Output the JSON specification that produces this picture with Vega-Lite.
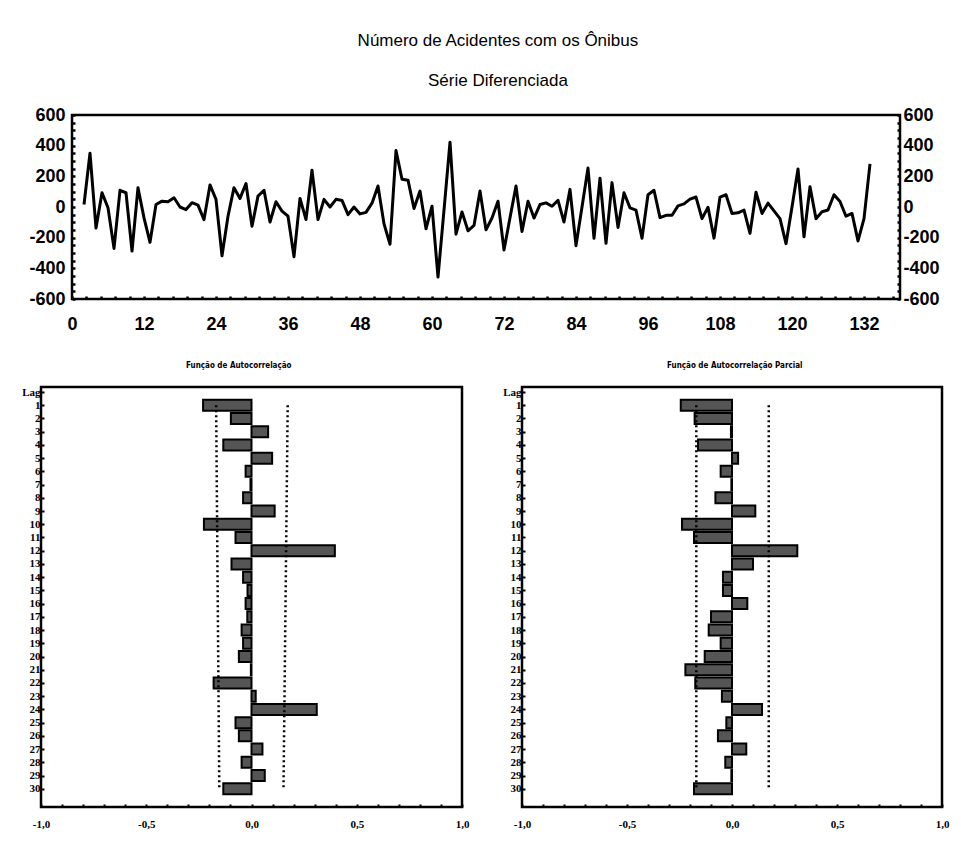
{
  "$schema": "https://vega.github.io/schema/vega-lite/v6.json",
  "background": "white",
  "padding": {"left": 5, "top": 31, "right": 5, "bottom": 5},
  "title": {
    "text": ["Número de Acidentes com os Ônibus", "Série Diferenciada"],
    "font": "Liberation Sans",
    "fontSize": 17,
    "fontWeight": "normal",
    "lineHeight": 40,
    "anchor": "middle",
    "dx": 20,
    "offset": 15,
    "color": "black"
  },
  "datasets": {
    "series": [
      {"t": 2, "value": 16}, {"t": 3, "value": 351}, {"t": 4, "value": -137}, {"t": 5, "value": 93},
      {"t": 6, "value": -5}, {"t": 7, "value": -270}, {"t": 8, "value": 109}, {"t": 9, "value": 93},
      {"t": 10, "value": -287}, {"t": 11, "value": 126}, {"t": 12, "value": -71}, {"t": 13, "value": -230},
      {"t": 14, "value": 16}, {"t": 15, "value": 38}, {"t": 16, "value": 34}, {"t": 17, "value": 60},
      {"t": 18, "value": 0}, {"t": 19, "value": -17}, {"t": 20, "value": 28}, {"t": 21, "value": 12},
      {"t": 22, "value": -82}, {"t": 23, "value": 144}, {"t": 24, "value": 50}, {"t": 25, "value": -318},
      {"t": 26, "value": -60}, {"t": 27, "value": 126}, {"t": 28, "value": 56}, {"t": 29, "value": 153},
      {"t": 30, "value": -126}, {"t": 31, "value": 71}, {"t": 32, "value": 109}, {"t": 33, "value": -98},
      {"t": 34, "value": 34}, {"t": 35, "value": -27}, {"t": 36, "value": -60}, {"t": 37, "value": -324},
      {"t": 38, "value": 56}, {"t": 39, "value": -82}, {"t": 40, "value": 240}, {"t": 41, "value": -82},
      {"t": 42, "value": 50}, {"t": 43, "value": 0}, {"t": 44, "value": 50}, {"t": 45, "value": 43},
      {"t": 46, "value": -50}, {"t": 47, "value": 0}, {"t": 48, "value": -45}, {"t": 49, "value": -35},
      {"t": 50, "value": 25}, {"t": 51, "value": 137}, {"t": 52, "value": -110}, {"t": 53, "value": -243},
      {"t": 54, "value": 368}, {"t": 55, "value": 181}, {"t": 56, "value": 175}, {"t": 57, "value": -10},
      {"t": 58, "value": 104}, {"t": 59, "value": -142}, {"t": 60, "value": 5}, {"t": 61, "value": -457},
      {"t": 62, "value": -20}, {"t": 63, "value": 423}, {"t": 64, "value": -177}, {"t": 65, "value": -32},
      {"t": 66, "value": -155}, {"t": 67, "value": -120}, {"t": 68, "value": 104}, {"t": 69, "value": -149},
      {"t": 70, "value": -72}, {"t": 71, "value": 38}, {"t": 72, "value": -281}, {"t": 73, "value": -70},
      {"t": 74, "value": 137}, {"t": 75, "value": -160}, {"t": 76, "value": 38}, {"t": 77, "value": -72},
      {"t": 78, "value": 16}, {"t": 79, "value": 27}, {"t": 80, "value": 5}, {"t": 81, "value": 43},
      {"t": 82, "value": -98}, {"t": 83, "value": 115}, {"t": 84, "value": -252}, {"t": 85, "value": 0},
      {"t": 86, "value": 254}, {"t": 87, "value": -204}, {"t": 88, "value": 188}, {"t": 89, "value": -237},
      {"t": 90, "value": 159}, {"t": 91, "value": -133}, {"t": 92, "value": 93}, {"t": 93, "value": -6},
      {"t": 94, "value": -20}, {"t": 95, "value": -204}, {"t": 96, "value": 80}, {"t": 97, "value": 109},
      {"t": 98, "value": -69}, {"t": 99, "value": -54}, {"t": 100, "value": -54}, {"t": 101, "value": 7},
      {"t": 102, "value": 20}, {"t": 103, "value": 51}, {"t": 104, "value": 65}, {"t": 105, "value": -76},
      {"t": 106, "value": -2}, {"t": 107, "value": -203}, {"t": 108, "value": 65}, {"t": 109, "value": 80},
      {"t": 110, "value": -42}, {"t": 111, "value": -38}, {"t": 112, "value": -20}, {"t": 113, "value": -172},
      {"t": 114, "value": 96}, {"t": 115, "value": -42}, {"t": 116, "value": 25}, {"t": 117, "value": -25},
      {"t": 118, "value": -76}, {"t": 119, "value": -239}, {"t": 120, "value": 0}, {"t": 121, "value": 248},
      {"t": 122, "value": -194}, {"t": 123, "value": 132}, {"t": 124, "value": -76}, {"t": 125, "value": -31},
      {"t": 126, "value": -20}, {"t": 127, "value": 80}, {"t": 128, "value": 36}, {"t": 129, "value": -60},
      {"t": 130, "value": -42}, {"t": 131, "value": -221}, {"t": 132, "value": -76}, {"t": 133, "value": 281}
    ],
    "acf": [
      {"lag": 1, "r": -0.23}, {"lag": 2, "r": -0.098}, {"lag": 3, "r": 0.079}, {"lag": 4, "r": -0.134},
      {"lag": 5, "r": 0.098}, {"lag": 6, "r": -0.028}, {"lag": 7, "r": -0.005}, {"lag": 8, "r": -0.04},
      {"lag": 9, "r": 0.11}, {"lag": 10, "r": -0.226}, {"lag": 11, "r": -0.076}, {"lag": 12, "r": 0.396},
      {"lag": 13, "r": -0.095}, {"lag": 14, "r": -0.04}, {"lag": 15, "r": -0.019}, {"lag": 16, "r": -0.028},
      {"lag": 17, "r": -0.02}, {"lag": 18, "r": -0.047}, {"lag": 19, "r": -0.04}, {"lag": 20, "r": -0.06},
      {"lag": 21, "r": -0.003}, {"lag": 22, "r": -0.18}, {"lag": 23, "r": 0.02}, {"lag": 24, "r": 0.31},
      {"lag": 25, "r": -0.076}, {"lag": 26, "r": -0.06}, {"lag": 27, "r": 0.052}, {"lag": 28, "r": -0.047},
      {"lag": 29, "r": 0.063}, {"lag": 30, "r": -0.134}
    ],
    "acfBands": [
      {"side": "lo", "lag": 1, "r": -0.168}, {"side": "lo", "lag": 30, "r": -0.153},
      {"side": "hi", "lag": 1, "r": 0.172}, {"side": "hi", "lag": 30, "r": 0.152}
    ],
    "pacf": [
      {"lag": 1, "r": -0.244}, {"lag": 2, "r": -0.178}, {"lag": 3, "r": -0.005}, {"lag": 4, "r": -0.162},
      {"lag": 5, "r": 0.029}, {"lag": 6, "r": -0.054}, {"lag": 7, "r": -0.003}, {"lag": 8, "r": -0.079},
      {"lag": 9, "r": 0.111}, {"lag": 10, "r": -0.238}, {"lag": 11, "r": -0.181}, {"lag": 12, "r": 0.311},
      {"lag": 13, "r": 0.1}, {"lag": 14, "r": -0.043}, {"lag": 15, "r": -0.043}, {"lag": 16, "r": 0.073},
      {"lag": 17, "r": -0.1}, {"lag": 18, "r": -0.111}, {"lag": 19, "r": -0.054}, {"lag": 20, "r": -0.13},
      {"lag": 21, "r": -0.222}, {"lag": 22, "r": -0.175}, {"lag": 23, "r": -0.048}, {"lag": 24, "r": 0.143},
      {"lag": 25, "r": -0.027}, {"lag": 26, "r": -0.067}, {"lag": 27, "r": 0.068}, {"lag": 28, "r": -0.032},
      {"lag": 29, "r": -0.003}, {"lag": 30, "r": -0.181}
    ],
    "pacfBands": [
      {"side": "lo", "lag": 1, "r": -0.17}, {"side": "lo", "lag": 30, "r": -0.17},
      {"side": "hi", "lag": 1, "r": 0.175}, {"side": "hi", "lag": 30, "r": 0.175}
    ],
    "spacer": [{"s": 0}]
  },
  "columns": 1,
  "align": "none",
  "spacing": 25,
  "concat": [
    {
      "bounds": "flush",
      "spacing": 30,
      "hconcat": [
        {
          "width": 1,
          "height": 184,
          "view": {"stroke": null},
          "data": {"name": "spacer"},
          "mark": {"type": "point", "opacity": 0}
        },
        {
          "width": 828,
          "height": 184,
          "data": {"name": "series"},
          "encoding": {
            "x": {
              "field": "t", "type": "quantitative",
              "scale": {"domain": [0, 138], "nice": false, "zero": false},
              "axis": {
                "title": null, "orient": "bottom",
                "values": [0,2.4,4.8,7.2,9.6,12,14.4,16.8,19.2,21.6,24,26.4,28.8,31.2,33.6,36,38.4,40.8,43.2,45.6,48,50.4,52.8,55.2,57.6,60,62.4,64.8,67.2,69.6,72,74.4,76.8,79.2,81.6,84,86.4,88.8,91.2,93.6,96,98.4,100.8,103.2,105.6,108,110.4,112.8,115.2,117.6,120,122.4,124.8,127.2,129.6,132,134.4,136.8],
                "labelExpr": "datum.value % 12 == 0 ? datum.label : ''",
                "labelFont": "Liberation Sans", "labelFontSize": 18, "labelFontWeight": "bold",
                "labelPadding": 19, "tickSize": -3, "tickWidth": 2.5, "labelFlush": false, "labelOverlap": false
              }
            }
          },
          "layer": [
            {
              "mark": {"type": "line", "color": "black", "strokeWidth": 3, "strokeJoin": "round"},
              "encoding": {
                "y": {
                  "field": "value", "type": "quantitative",
                  "scale": {"domain": [-600, 600], "nice": false},
                  "axis": {
                    "title": null, "orient": "left",
                    "values": [-600,-550,-500,-450,-400,-350,-300,-250,-200,-150,-100,-50,0,50,100,150,200,250,300,350,400,450,500,550,600],
                    "labelExpr": "datum.value % 200 == 0 ? replace(datum.label, '\u2212', '-') : ''",
                    "labelFont": "Liberation Sans", "labelFontSize": 18, "labelFontWeight": "bold",
                    "labelPadding": 10, "tickSize": -3, "tickWidth": 2.5, "labelOverlap": false
                  }
                }
              }
            },
            {
              "mark": {"type": "line", "opacity": 0},
              "encoding": {
                "y": {
                  "field": "value", "type": "quantitative",
                  "axis": {
                    "title": null, "orient": "right",
                    "values": [-600,-550,-500,-450,-400,-350,-300,-250,-200,-150,-100,-50,0,50,100,150,200,250,300,350,400,450,500,550,600],
                    "labelExpr": "datum.value % 200 == 0 ? replace(datum.label, '\u2212', '-') : ''",
                    "labelFont": "Liberation Sans", "labelFontSize": 18, "labelFontWeight": "bold",
                    "labelPadding": 6, "tickSize": -3, "tickWidth": 2.5, "labelOverlap": false
                  }
                }
              }
            }
          ],
          "resolve": {"axis": {"y": "independent"}}
        }
      ]
    },
    {
      "spacing": 15,
      "hconcat": [
        {
          "width": 421,
          "height": 420,
          "title": {"text": "Função de Autocorrelação", "font": "DejaVu Sans Condensed, Liberation Sans", "fontSize": 8, "fontWeight": "bold", "anchor": "start", "dx": 179, "offset": 16, "color": "black"},
          "encoding": {
            "y": {
              "field": "lag", "type": "quantitative",
              "scale": {"domain": [0, 31], "reverse": true, "nice": false, "zero": false},
              "axis": {
                "title": null,
                "values": [0,1,2,3,4,5,6,7,8,9,10,11,12,13,14,15,16,17,18,19,20,21,22,23,24,25,26,27,28,29,30],
                "labelExpr": "datum.value == 0 ? 'Lag' : datum.label",
                "labelFont": "Liberation Serif", "labelFontSize": 11, "labelFontWeight": "bold",
                "labelPadding": 4, "tickSize": -3, "tickWidth": 2, "labelOverlap": false,
                "minExtent": 34, "maxExtent": 34
              }
            },
            "x": {
              "field": "r", "type": "quantitative",
              "scale": {"domain": [-1, 1], "nice": false},
              "axis": {
                "title": null,
                "values": [-1,-0.9,-0.8,-0.7,-0.6,-0.5,-0.4,-0.3,-0.2,-0.1,0,0.1,0.2,0.3,0.4,0.5,0.6,0.7,0.8,0.9,1],
                "labelExpr": "abs(datum.value*2 - round(datum.value*2)) < 0.001 ? replace(replace(format(datum.value, '.1f'), '.', ','), '\u2212', '-') : ''",
                "labelFont": "Liberation Serif", "labelFontSize": 11, "labelFontWeight": "bold",
                "labelPadding": 14, "tickSize": -3, "tickWidth": 2, "labelFlush": false, "labelOverlap": false
              }
            }
          },
          "layer": [
            {
              "data": {"name": "acf"},
              "mark": {"type": "bar", "orient": "horizontal", "size": 11, "fill": "#555555", "stroke": "black", "strokeWidth": 2}
            },
            {
              "data": {"name": "acfBands"},
              "mark": {"type": "line", "color": "black", "strokeDash": [2, 3], "strokeWidth": 2.5},
              "encoding": {
                "detail": {"field": "side", "type": "nominal"},
                "order": {"field": "lag", "type": "quantitative"}
              }
            }
          ]
        },
        {
          "width": 420,
          "height": 420,
          "title": {"text": "Função de Autocorrelação Parcial", "font": "DejaVu Sans Condensed, Liberation Sans", "fontSize": 8, "fontWeight": "bold", "anchor": "start", "dx": 179, "offset": 16, "color": "black"},
          "encoding": {
            "y": {
              "field": "lag", "type": "quantitative",
              "scale": {"domain": [0, 31], "reverse": true, "nice": false, "zero": false},
              "axis": {
                "title": null,
                "values": [0,1,2,3,4,5,6,7,8,9,10,11,12,13,14,15,16,17,18,19,20,21,22,23,24,25,26,27,28,29,30],
                "labelExpr": "datum.value == 0 ? 'Lag' : datum.label",
                "labelFont": "Liberation Serif", "labelFontSize": 11, "labelFontWeight": "bold",
                "labelPadding": 4, "tickSize": -3, "tickWidth": 2, "labelOverlap": false,
                "minExtent": 34, "maxExtent": 34
              }
            },
            "x": {
              "field": "r", "type": "quantitative",
              "scale": {"domain": [-1, 1], "nice": false},
              "axis": {
                "title": null,
                "values": [-1,-0.9,-0.8,-0.7,-0.6,-0.5,-0.4,-0.3,-0.2,-0.1,0,0.1,0.2,0.3,0.4,0.5,0.6,0.7,0.8,0.9,1],
                "labelExpr": "abs(datum.value*2 - round(datum.value*2)) < 0.001 ? replace(replace(format(datum.value, '.1f'), '.', ','), '\u2212', '-') : ''",
                "labelFont": "Liberation Serif", "labelFontSize": 11, "labelFontWeight": "bold",
                "labelPadding": 14, "tickSize": -3, "tickWidth": 2, "labelFlush": false, "labelOverlap": false
              }
            }
          },
          "layer": [
            {
              "data": {"name": "pacf"},
              "mark": {"type": "bar", "orient": "horizontal", "size": 11, "fill": "#555555", "stroke": "black", "strokeWidth": 2}
            },
            {
              "data": {"name": "pacfBands"},
              "mark": {"type": "line", "color": "black", "strokeDash": [2, 3], "strokeWidth": 2.5},
              "encoding": {
                "detail": {"field": "side", "type": "nominal"},
                "order": {"field": "lag", "type": "quantitative"}
              }
            }
          ]
        }
      ]
    }
  ],
  "config": {
    "view": {"stroke": "black", "strokeWidth": 2.5},
    "axis": {"domain": false, "grid": false, "labelOverlap": false, "labelColor": "black", "tickColor": "black", "titleColor": "black"}
  }
}
